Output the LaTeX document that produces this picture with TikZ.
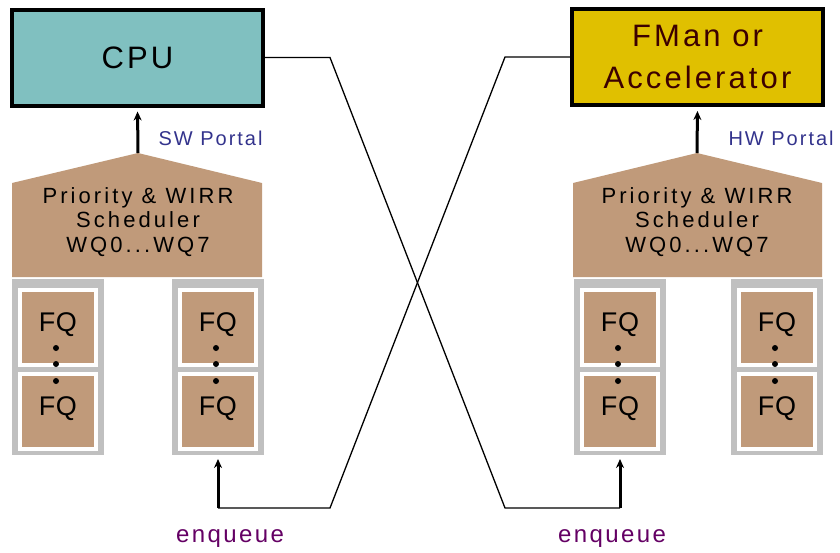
\documentclass[tikz,border=0pt]{standalone}
\usepackage{fontspec}
\setmainfont[LetterSpace=10]{Liberation Sans}
\usetikzlibrary{arrows.meta}
\definecolor{cputeal}{RGB}{128,192,192}
\definecolor{fmangold}{RGB}{224,192,0}
\definecolor{schedtan}{RGB}{192,154,122}
\definecolor{queuegray}{RGB}{192,192,192}
\definecolor{portalblue}{RGB}{51,51,140}
\definecolor{enqpurple}{RGB}{100,0,100}
\definecolor{fmantext}{RGB}{60,0,0}
\begin{document}
\begin{tikzpicture}[x=1pt, y=-1pt,
		unit/.style = {draw, line width=4pt, minimum width=251pt, minimum height=96pt, align=center, font=\fontsize{31}{42}\selectfont},
		sched/.style = {align=center, font=\fontsize{22}{24.5}\selectfont\addfontfeature{LetterSpace=14}},
		queue/.style = {draw=queuegray, fill=queuegray, line width=6pt, minimum width=86pt, minimum height=170pt},
		fq/.style = {draw=white, fill=schedtan, line width=4pt, minimum width=76pt, minimum height=75pt, text depth=10pt, font=\fontsize{27}{27}\selectfont\addfontfeature{LetterSpace=2}},
		portal/.style = {line width=3pt, -{Stealth[length=9pt, width=8pt]}, shorten >=4pt},
		wire/.style = {line width=1.3pt},
		tag/.style = {text=portalblue, font=\fontsize{20}{20}\selectfont},
		enq/.style = {text=enqpurple, font=\fontsize{24}{24}\selectfont}]
		\useasboundingbox (0, 0) rectangle (840, 552);
		% processing units
		\node[unit, fill=cputeal] (cpu) at (137.5, 57.5) {CPU};
		\node[unit, fill=fmangold, text=fmantext] (fman) at (697.5, 57) {FMan or\\Accelerator};
		% schedulers
		\fill[schedtan] (12, 277) -- (12, 183) -- (138, 153) coordinate (swtip) -- (262, 183) -- (262, 277) -- cycle;
		\fill[schedtan] (573, 277) -- (573, 183) -- (697, 153) coordinate (hwtip) -- (822, 183) -- (822, 277) -- cycle;
		\node[sched] (swsched) at (138, 222) {Priority \& WIRR\\Scheduler\\WQ0...WQ7};
		\node[sched] (hwsched) at (697, 222) {Priority \& WIRR\\Scheduler\\WQ0...WQ7};
		\draw[portal] (swtip) -- (cpu.south);
		\draw[portal] (hwtip) -- (fman.south);
		\node[tag, right] (swport) at (155, 138) {SW Portal};
		\node[tag, right] (hwport) at (725, 138) {HW Portal};
		% frame queues
		\foreach \q/\x in {swa/58, swb/218, hwa/620, hwb/777} {
			\node[queue] (\q) at (\x, 367) {};
			\node[fq] (\q-top) at (\x, 327) {FQ};
			\node[fq] (\q-bot) at (\x, 411) {FQ};
			\foreach \y in {348, 364, 381}
				\fill (\x - 2, \y) circle (3pt);
		}
		% enqueue paths
		\draw[wire] (cpu.east) -- ++(65, 0) -- (505, 508) -- (620, 508) coordinate (hwbend);
		\draw[wire] (fman.west) -- ++(-65, 0) -- (330, 508) -- (218, 508) coordinate (swbend);
		\draw[portal] (hwbend) -- (hwa.south);
		\draw[portal] (swbend) -- (swb.south);
		\node[enq] (swenq) at (230, 539) {enqueue};
		\node[enq] (hwenq) at (612, 539) {enqueue};
	\end{tikzpicture}
\end{document}
